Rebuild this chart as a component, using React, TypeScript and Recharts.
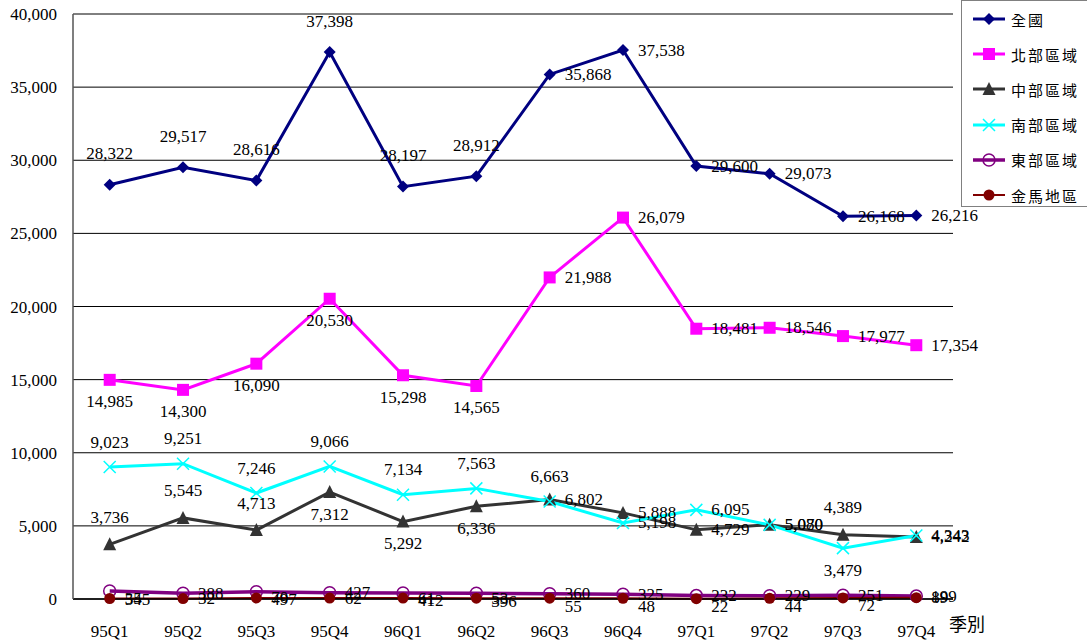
import { CartesianGrid, LabelList, Line, LineChart, XAxis, YAxis } from "recharts";

const QUARTERS = ["95Q1", "95Q2", "95Q3", "95Q4", "96Q1", "96Q2", "96Q3", "96Q4", "97Q1", "97Q2", "97Q3", "97Q4"];
const NATION = [28322, 29517, 28616, 37398, 28197, 28912, 35868, 37538, 29600, 29073, 26168, 26216];
const NORTH = [14985, 14300, 16090, 20530, 15298, 14565, 21988, 26079, 18481, 18546, 17977, 17354];
const CENTRAL = [3736, 5545, 4713, 7312, 5292, 6336, 6802, 5888, 4729, 5080, 4389, 4242];
const SOUTH = [9023, 9251, 7246, 9066, 7134, 7563, 6663, 5198, 6095, 5070, 3479, 4343];
const EAST = [545, 388, 497, 427, 412, 396, 360, 325, 232, 229, 251, 199];
const KINMA = [35, 32, 70, 62, 61, 53, 55, 48, 22, 44, 72, 89];
const Y_TICKS = [0, 5000, 10000, 15000, 20000, 25000, 30000, 35000, 40000];

// where each point's value label sits
const NATION_POS = ["top", "top", "top", "top", "top", "top", "right", "right", "right", "right", "right", "right"];
const NORTH_POS = ["bottom", "bottom", "bottom", "bottom", "bottom", "bottom", "right", "right", "right", "right", "right", "right"];
const CENTRAL_POS = ["top", "top", "top", "bottom", "bottom", "bottom", "right", "right", "right", "right", "top", "right"];
const SOUTH_POS = ["top", "top", "top", "top", "top", "top", "top", "right", "right", "right", "bottom", "right"];
const EAST_POS = ["rightLow", "right", "rightLow", "right", "rightLow", "rightLow", "right", "right", "right", "right", "right", "right"];
const KINMA_POS = ["right", "right", "right", "right", "right", "right", "rightLow", "rightLow", "rightLow", "rightLow", "rightLow", "right"];

const data = QUARTERS.map((q, i) => ({
  q,
  nation: NATION[i],
  north: NORTH[i],
  central: CENTRAL[i],
  south: SOUTH[i],
  east: EAST[i],
  kinma: KINMA[i],
}));

const SERIF = "'Liberation Serif', 'DejaVu Serif', serif";
const CJK = "'Noto Sans CJK TC', 'Noto Sans CJK SC', sans-serif";

function makeLabel(pos: string[], topGap = 27) {
  return (props: any) => {
    const vb = props.viewBox || {};
    const x = props.x ?? vb.x;
    const y = props.y ?? vb.y;
    const p = pos[props.index] || "right";
    let tx = x;
    let ty = y;
    let anchor = "middle";
    if (p === "top") ty = y - topGap;
    else if (p === "bottom") ty = y + 22;
    else if (p === "right") {
      tx = x + 15;
      anchor = "start";
    } else if (p === "rightLow") {
      tx = x + 15;
      ty = y + 8;
      anchor = "start";
    }
    return (
      <text
        x={tx}
        y={ty}
        textAnchor={anchor}
        dominantBaseline="central"
        fontSize={17}
        fontFamily={SERIF}
        fill="#000"
      >
        {Number(props.value).toLocaleString("en-US")}
      </text>
    );
  };
}

const diamond = (color: string) => (props: any) => {
  const { cx, cy, index } = props;
  return (
    <path
      key={`dm-${index}`}
      d={`M${cx},${cy - 6}L${cx + 6},${cy}L${cx},${cy + 6}L${cx - 6},${cy}Z`}
      fill={color}
    />
  );
};

const square = (color: string) => (props: any) => {
  const { cx, cy, index } = props;
  return <rect key={`sq-${index}`} x={cx - 6} y={cy - 6} width={12} height={12} fill={color} />;
};

const triangle = (color: string) => (props: any) => {
  const { cx, cy, index } = props;
  return (
    <path key={`tr-${index}`} d={`M${cx},${cy - 7}L${cx + 6.5},${cy + 6}L${cx - 6.5},${cy + 6}Z`} fill={color} />
  );
};

const cross = (color: string) => (props: any) => {
  const { cx, cy, index } = props;
  return (
    <path
      key={`cx-${index}`}
      d={`M${cx - 6},${cy - 6}L${cx + 6},${cy + 6}M${cx + 6},${cy - 6}L${cx - 6},${cy + 6}`}
      stroke={color}
      strokeWidth={1.5}
      fill="none"
    />
  );
};

const ring = (color: string) => (props: any) => {
  const { cx, cy, index } = props;
  return <circle key={`rg-${index}`} cx={cx} cy={cy} r={6} stroke={color} strokeWidth={1.5} fill="none" />;
};

const disc = (color: string) => (props: any) => {
  const { cx, cy, index } = props;
  return <circle key={`dc-${index}`} cx={cx} cy={cy} r={5.5} fill={color} />;
};

const SERIES = [
  { key: "nation", name: "全國", color: "#000080", width: 3, dot: diamond, pos: NATION_POS, gap: 31 },
  { key: "north", name: "北部區域", color: "#ff00ff", width: 3, dot: square, pos: NORTH_POS, gap: 27 },
  { key: "central", name: "中部區域", color: "#333333", width: 3, dot: triangle, pos: CENTRAL_POS, gap: 27 },
  { key: "south", name: "南部區域", color: "#00ffff", width: 3, dot: cross, pos: SOUTH_POS, gap: 25 },
  { key: "east", name: "東部區域", color: "#800080", width: 3.5, dot: ring, pos: EAST_POS, gap: 27 },
  { key: "kinma", name: "金馬地區", color: "#800000", width: 2, dot: disc, pos: KINMA_POS, gap: 27 },
];

function LegendBox() {
  return (
    <div
      style={{
        position: "absolute",
        left: 961,
        top: 0,
        width: 130,
        height: 207,
        border: "1px solid #808080",
        boxSizing: "border-box",
        background: "#fff",
      }}
    >
      {SERIES.map((s, i) => (
        <div
          key={s.key}
          style={{
            position: "absolute",
            left: 10,
            top: 18 + i * 35.2 - 10,
            height: 20,
            display: "flex",
            alignItems: "center",
          }}
        >
          <svg width={34} height={16}>
            <line x1={1} y1={8} x2={33} y2={8} stroke={s.color} strokeWidth={s.width} />
            {s.dot(s.color)({ cx: 17, cy: 8, index: 0 })}
          </svg>
          <span style={{ marginLeft: 5, fontFamily: CJK, fontSize: 15, letterSpacing: 2, color: "#000" }}>
            {s.name}
          </span>
        </div>
      ))}
    </div>
  );
}

export default function App() {
  return (
    <div style={{ position: "fixed", left: 0, top: 0, width: 1087, height: 644, background: "#fff" }}>
      <LineChart width={1087} height={644} data={data} margin={{ top: 14, right: 134, bottom: 15, left: 8 }}>
        <CartesianGrid horizontal vertical={false} stroke="#000" strokeWidth={1} />
        <XAxis
          dataKey="q"
          padding={{ left: 36.7, right: 36.7 }}
          height={30}
          tickLine={false}
          tickSize={8}
          tickMargin={18}
          axisLine={{ stroke: "#000", strokeWidth: 1.5 }}
          tick={{ fontSize: 17, fontFamily: SERIF, fill: "#000" }}
          interval={0}
        />
        <YAxis
          width={65}
          domain={[0, 40000]}
          ticks={Y_TICKS}
          tickLine={false}
          tickSize={8}
          tickMargin={8}
          axisLine={{ stroke: "#555", strokeWidth: 1.5 }}
          tick={{ fontSize: 17, fontFamily: SERIF, fill: "#000" }}
          tickFormatter={(v: number) => v.toLocaleString("en-US")}
        />
        <YAxis
          yAxisId="r"
          orientation="right"
          width={0}
          domain={[0, 40000]}
          tick={false}
          tickLine={false}
          axisLine={{ stroke: "#808080", strokeWidth: 1 }}
        />
        {SERIES.map((s) => (
          <Line
            key={s.key}
            dataKey={s.key}
            name={s.name}
            type="linear"
            stroke={s.color}
            strokeWidth={s.width}
            dot={s.dot(s.color)}
            activeDot={false}
            isAnimationActive={false}
          >
            <LabelList dataKey={s.key} content={makeLabel(s.pos, s.gap)} />
          </Line>
        ))}
      </LineChart>
      <LegendBox />
      <div
        style={{
          position: "absolute",
          left: 949,
          top: 611,
          fontFamily: CJK,
          fontSize: 18,
          color: "#000",
          lineHeight: "24px",
        }}
      >
        季別
      </div>
    </div>
  );
}
